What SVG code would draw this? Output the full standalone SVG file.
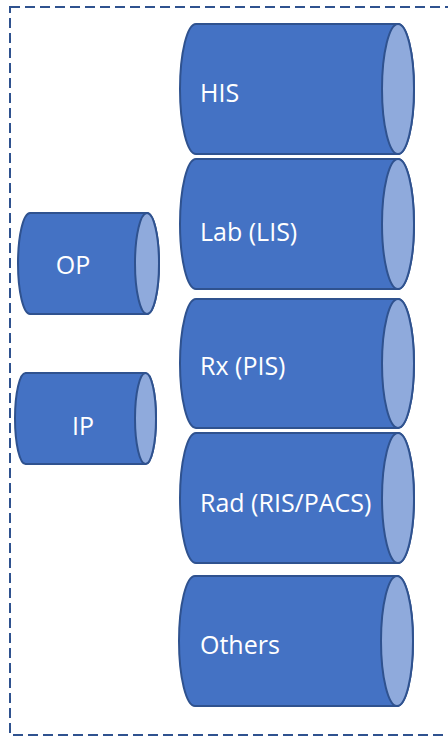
<svg xmlns="http://www.w3.org/2000/svg" width="448" height="738" viewBox="0 0 448 738">
<style>
.body{fill:#4472C4;stroke:#2F528F;stroke-width:2}
.end{fill:#8FAADC;stroke:#2F528F;stroke-width:2}
.lbl{fill:#FFFFFF;font-family:"Open Sans","Noto Sans",sans-serif;font-size:25px}
.frame{fill:none;stroke:#2F528F;stroke-width:2;stroke-dasharray:10,5}
</style>
<rect class="frame" x="10" y="7" width="460" height="728"/>
<g id="HIS">
<path class="body" d="M196,24 L398,24 A16,65 0 0 1 398,154 L196,154 A16,65 0 0 1 196,24 Z"/>
<ellipse class="end" cx="398" cy="89" rx="16" ry="65"/>
<text class="lbl" x="200" y="102">HIS</text>
</g>
<g id="Lab">
<path class="body" d="M196,159 L398,159 A16,65 0 0 1 398,289 L196,289 A16,65 0 0 1 196,159 Z"/>
<ellipse class="end" cx="398" cy="224" rx="16" ry="65"/>
<text class="lbl" x="200" y="241">Lab (LIS)</text>
</g>
<g id="Rx">
<path class="body" d="M196,299 L398,299 A16,64.5 0 0 1 398,428 L196,428 A16,64.5 0 0 1 196,299 Z"/>
<ellipse class="end" cx="398" cy="363.5" rx="16" ry="64.5"/>
<text class="lbl" x="200" y="375">Rx (PIS)</text>
</g>
<g id="Rad">
<path class="body" d="M196,433 L398,433 A16,65 0 0 1 398,563 L196,563 A16,65 0 0 1 196,433 Z"/>
<ellipse class="end" cx="398" cy="498" rx="16" ry="65"/>
<text class="lbl" x="200" y="512">Rad (RIS/PACS)</text>
</g>
<g id="Others">
<path class="body" d="M195,576 L397,576 A16,65 0 0 1 397,706 L195,706 A16,65 0 0 1 195,576 Z"/>
<ellipse class="end" cx="397" cy="641" rx="16" ry="65"/>
<text class="lbl" x="200" y="654">Others</text>
</g>
<g id="OP">
<path class="body" d="M30,213 L147,213 A12,50.5 0 0 1 147,314 L30,314 A12,50.5 0 0 1 30,213 Z"/>
<ellipse class="end" cx="147" cy="263.5" rx="12" ry="50.5"/>
<text class="lbl" x="73" y="274" text-anchor="middle">OP</text>
</g>
<g id="IP">
<path class="body" d="M25.5,373 L145.5,373 A10.5,45.5 0 0 1 145.5,464 L25.5,464 A10.5,45.5 0 0 1 25.5,373 Z"/>
<ellipse class="end" cx="145.5" cy="418.5" rx="10.5" ry="45.5"/>
<text class="lbl" x="83" y="435" text-anchor="middle">IP</text>
</g>
<g id="connectors"/>
</svg>
